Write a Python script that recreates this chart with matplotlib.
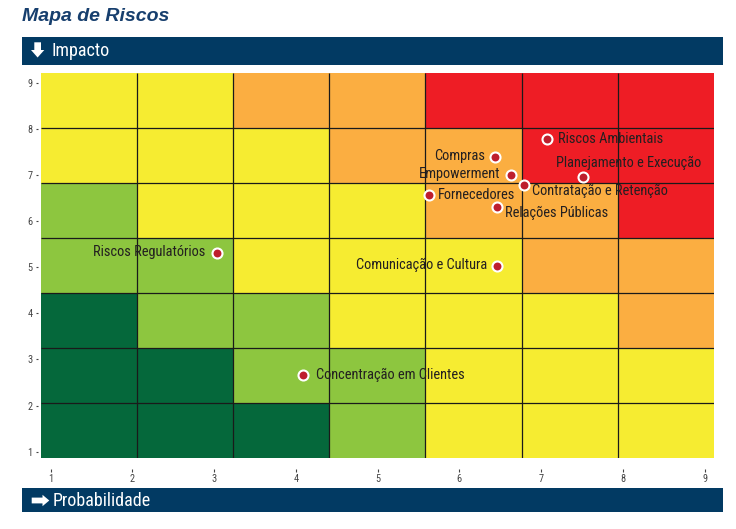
import numpy as np
import matplotlib
matplotlib.use("Agg")
import matplotlib.pyplot as plt
from matplotlib import font_manager
from matplotlib.colors import ListedColormap
from matplotlib.patches import Rectangle, Polygon

FIG_W = 736
FIG_H = 529

# risks: probability (x) and impact (y)
RISKS = ["Riscos Ambientais", "Planejamento e Execução", "Compras", "Empowerment",
         "Contratação e Retenção", "Fornecedores", "Relações Públicas",
         "Riscos Regulatórios", "Comunicação e Cultura", "Concentração em Clientes"]
PROB = [7.07, 7.51, 6.44, 6.63, 6.79, 5.63, 6.46, 3.03, 6.46, 4.09]
IMPACT = [7.78, 6.96, 7.39, 7.00, 6.78, 6.57, 6.31, 5.31, 5.03, 2.66]

# zone level per cell, top row first (1 dark green ... 5 red)
LEVELS = [
    [3, 3, 4, 4, 5, 5, 5],
    [3, 3, 3, 4, 4, 5, 5],
    [2, 3, 3, 3, 4, 4, 5],
    [2, 2, 3, 3, 3, 4, 4],
    [1, 2, 2, 3, 3, 3, 4],
    [1, 1, 2, 2, 3, 3, 3],
    [1, 1, 1, 2, 3, 3, 3],
]
ZONE_COLORS = ["#05683b", "#8dc63f", "#f6ec31", "#fbae41", "#ee1d25"]
TICKS = [1, 2, 3, 4, 5, 6, 7, 8, 9]

TITLE = "Mapa de Riscos"
Y_BANNER = "Impacto"
X_BANNER = "Probabilidade"

# layout: label offset in px from the marker (dx, dy up) and alignment
LABEL_POS = {
    "Riscos Ambientais": (11, 0, "left"),
    "Planejamento e Execução": (-27, 14, "left"),
    "Compras": (-10, 1, "right"),
    "Empowerment": (-11, 1, "right"),
    "Contratação e Retenção": (8, -6, "left"),
    "Fornecedores": (9, 0, "left"),
    "Relações Públicas": (8, -6, "left"),
    "Riscos Regulatórios": (-11, 1, "right"),
    "Comunicação e Cultura": (-10, 1, "right"),
    "Concentração em Clientes": (13, 0, "left"),
}

XMIN, XMAX = 0.878, 9.114
YMIN, YMAX = 0.870, 9.204

BANNER_COLOR = "#023a63"

# the original uses a narrow sans; use one if present, else a smaller Arial-like font
installed = {f.name for f in font_manager.fontManager.ttflist}
NARROW = ["Liberation Sans", "DejaVu Sans"]
SHRINK = 0.88
for cand in ["Liberation Sans Narrow", "Arial Narrow", "Roboto Condensed", "Open Sans Condensed"]:
    if cand in installed:
        NARROW = [cand, "DejaVu Sans"]
        SHRINK = 1.0
        break


def px(x, y):
    return (x / FIG_W, 1 - y / FIG_H)


fig = plt.figure(figsize=(FIG_W / 100, FIG_H / 100), dpi=100)
ax_left, ax_right, ax_top, ax_bottom = 40.7, 714, 73.3, 457.7
ax = fig.add_axes([ax_left / FIG_W, 1 - ax_bottom / FIG_H,
                   (ax_right - ax_left) / FIG_W, (ax_bottom - ax_top) / FIG_H])

x_edges = np.linspace(XMIN, XMAX, 8)
y_edges = np.linspace(YMIN, YMAX, 8)
grid = np.flipud(np.array(LEVELS))
ax.pcolormesh(x_edges, y_edges, grid, cmap=ListedColormap(ZONE_COLORS),
              vmin=0.5, vmax=5.5, shading="flat")
ax.vlines(x_edges[1:-1], YMIN, YMAX, color="#1a1a1a", linewidth=0.9)
ax.hlines(y_edges[1:-1], XMIN, XMAX, color="#1a1a1a", linewidth=0.9)

ax.plot(PROB, IMPACT, linestyle="none", marker="o", markersize=7.2,
        markerfacecolor="#be1e2d", markeredgecolor="white", markeredgewidth=1.5,
        zorder=5)

for name, x, y in zip(RISKS, PROB, IMPACT):
    dx, dy, ha = LABEL_POS[name]
    ax.annotate(name, (x, y), xytext=(dx * 0.72, dy * 0.72), textcoords="offset points",
                ha=ha, va="center", fontsize=10.4 * SHRINK, family=NARROW,
                color="#231f20", zorder=6, annotation_clip=False)

ax.set_xlim(XMIN, XMAX)
ax.set_ylim(YMIN, YMAX)
ax.set_xticks(TICKS)
ax.set_yticks(TICKS)
for s in ["top", "right"]:
    ax.spines[s].set_visible(False)
ax.spines["bottom"].set_position(("outward", 8.3))
ax.spines["left"].set_position(("outward", 2.2))
ax.spines["bottom"].set_color("none")
ax.spines["left"].set_color("none")
ax.tick_params(axis="x", direction="out", length=2.2, width=0.8, pad=1,
               labelsize=7.5, colors="#444444")
ax.tick_params(axis="y", direction="out", length=1.5, width=0.8, pad=2,
               labelsize=7.5, colors="#444444")
for lab in ax.get_xticklabels() + ax.get_yticklabels():
    lab.set_family(NARROW)

# title and banners
fig.text(*px(22, 21), TITLE, ha="left", va="baseline", fontsize=14,
         fontweight="bold", fontstyle="italic", family=["Liberation Sans", "DejaVu Sans"],
         color="#173f6e")

x0, y0 = px(22.3, 64.7)
x1, y1 = px(723, 36.7)
fig.add_artist(Rectangle((x0, y0), x1 - x0, y1 - y0, transform=fig.transFigure,
                         facecolor=BANNER_COLOR, edgecolor="none"))
x0, y0 = px(22.3, 511.7)
x1, y1 = px(723, 488.3)
fig.add_artist(Rectangle((x0, y0), x1 - x0, y1 - y0, transform=fig.transFigure,
                         facecolor=BANNER_COLOR, edgecolor="none"))

down_arrow = [(34.3, 42.3), (41, 42.3), (41, 50), (44.3, 50), (37.6, 57.5),
              (31, 50), (34.3, 50)]
fig.add_artist(Polygon([px(x, y) for x, y in down_arrow], closed=True,
                       transform=fig.transFigure, facecolor="white", edgecolor="none"))
right_arrow = [(31.7, 497.6), (42.5, 497.6), (42.5, 494.8), (49.3, 500.5),
               (42.5, 506.2), (42.5, 503.4), (31.7, 503.4)]
fig.add_artist(Polygon([px(x, y) for x, y in right_arrow], closed=True,
                       transform=fig.transFigure, facecolor="white", edgecolor="none"))

fig.text(*px(52, 56), Y_BANNER, ha="left", va="baseline", fontsize=13 * SHRINK,
         family=NARROW, color="white")
fig.text(*px(53, 506), X_BANNER, ha="left", va="baseline", fontsize=13 * SHRINK,
         family=NARROW, color="white")

fig.savefig("out.png", dpi=100)
